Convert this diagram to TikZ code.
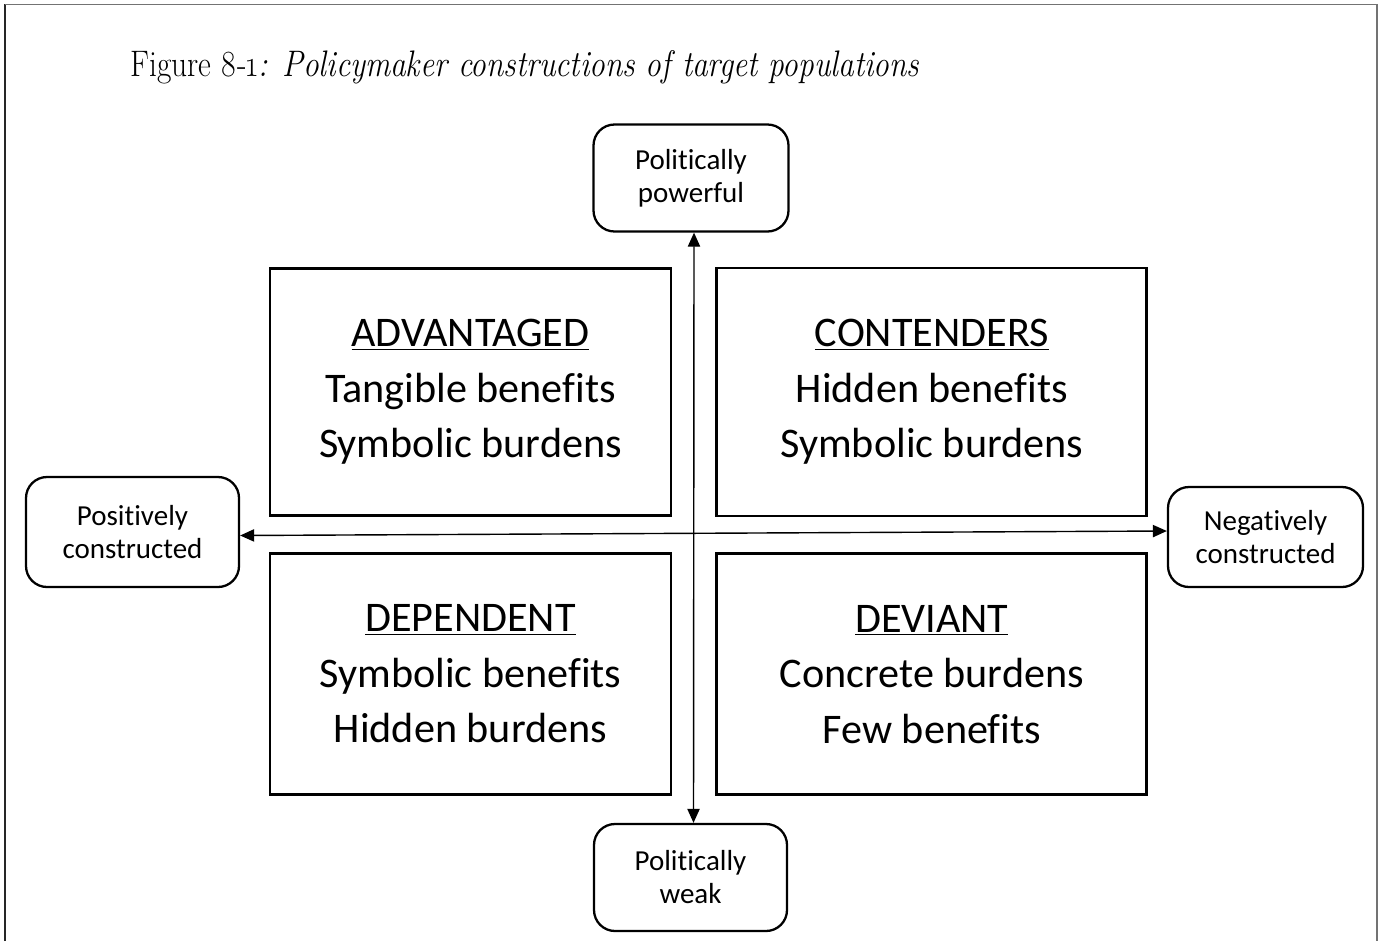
\documentclass[tikz,border=0pt]{standalone}
\usepackage{fontspec}
\setmainfont{Carlito}[Ligatures=CommonOff]
\newfontfamily\captionfont{Latin Modern Roman}
\usetikzlibrary{arrows.meta, positioning}

\begin{document}
\begin{tikzpicture}[
    node distance=0.74cm and 0.86cm,
    quadrant/.style={rectangle, draw, line width=1.6pt, minimum width=8.02cm, minimum height=4.9cm, align=center, font=\fontsize{24}{31.5}\selectfont},
    extreme/.style={rectangle, draw, rounded corners=0.42cm, line width=1.3pt, minimum width=3.9cm, minimum height=2.14cm, align=center, font=\fontsize{16.5}{18.8}\selectfont},
    axis/.style={{Triangle[length=8pt, width=7pt]}-{Triangle[length=8pt, width=7pt]}, line width=0.8pt},
    frame/.style={line width=1.1pt}
]
    \useasboundingbox (0,0) rectangle (27.58,-18.82);

    % Page frame (open at the bottom)
    \draw[frame, black!85] (0.1,-18.82) -- (0.1,-0.09);
    \draw[frame, black!55] (0.1,-0.09) -- (27.54,-0.09) -- (27.54,-18.82);

    % Caption
    \node[anchor=base west, inner sep=0pt, font=\captionfont\fontsize{21}{24}\selectfont] (caption) at (2.6,-1.52)
        {\scalebox{0.85}[1]{Figure \oldstylenums{8}-\oldstylenums{1}\textit{: Policymaker constructions of target populations}}};

    % Quadrants
    \node[quadrant, minimum height=4.94cm] (advantaged) at (9.41,-7.84)
        {\underline{ADVANTAGED}\\Tangible benefits\\Symbolic burdens};
    \node[quadrant, minimum width=8.6cm, minimum height=4.96cm, right=of advantaged] (contenders)
        {\underline{CONTENDERS}\\Hidden benefits\\Symbolic burdens};
    \node[quadrant, minimum height=4.82cm, below=0.7cm of advantaged] (dependent)
        {\underline{DEPENDENT}\\Symbolic benefits\\Hidden burdens};
    \node[quadrant, minimum width=8.6cm, minimum height=4.82cm, below=0.7cm of contenders] (deviant)
        {\underline{DEVIANT}\\Concrete burdens\\Few benefits};

    % Ends of the two axes
    \node[extreme] (powerful) at (13.82,-3.56) {Politically\\powerful};
    \node[extreme, minimum width=3.86cm] (weak) at (13.81,-17.55) {Politically\\weak};
    \node[extreme, minimum width=4.26cm, minimum height=2.2cm] (positive) at (2.65,-10.64) {Positively\\constructed};
    \node[extreme, minimum height=2cm] (negative) at (25.31,-10.74) {Negatively\\constructed};

    % Axes
    \draw[axis] ([xshift=0.06cm]powerful.south) -- ([xshift=0.06cm]weak.north);
    \draw[axis] ([yshift=-0.07cm]positive.east) -- ([yshift=0.12cm]negative.west);

\end{tikzpicture}
\end{document}
